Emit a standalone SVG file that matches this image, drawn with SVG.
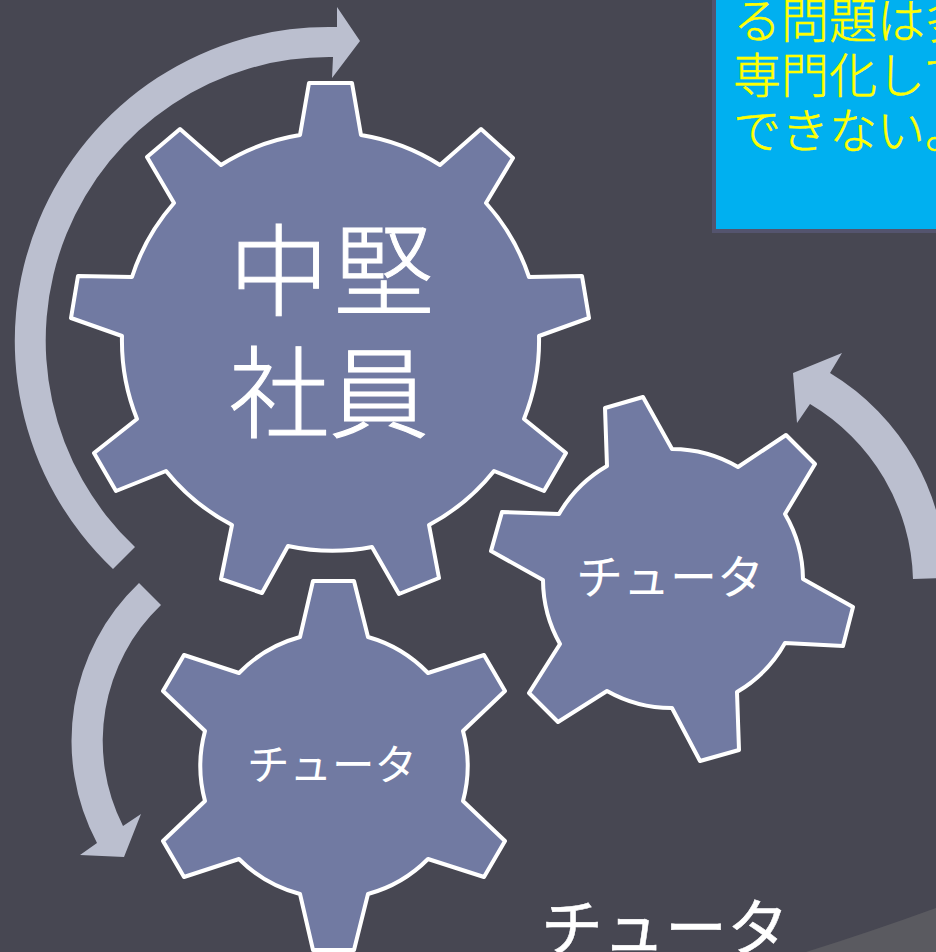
<svg xmlns="http://www.w3.org/2000/svg" width="936" height="952" viewBox="0 0 936 952">
<style>
.bg{fill:#474752}
.gear{fill:#717aa2;stroke:#fff;stroke-width:4;stroke-linejoin:round}
.arrow{fill:#bbbfcf}
text{font-family:"Noto Sans CJK JP","Noto Sans",sans-serif;fill:#fff;text-anchor:middle}
.box{fill:#00b0f0;stroke:#54546e;stroke-width:4}
.note{fill:#ff0;stroke:#ff0;stroke-width:.5;font-size:48px;font-weight:300;text-anchor:start}
.big{font-size:100px;font-weight:300;stroke:#fff;stroke-width:1}
</style>
<rect class="bg" width="936" height="952"/>
<path id="corner" d="M806 952Q870 932 936 908V952Z" fill="#5a5a60"/>
<g id="connectors">
<path class="arrow" d="M113 569A314 314 0 0 1 337 27L337 7L360 41L332 78L333 57A283.500 283.500 0 0 0 135 547Z"/>
<path class="arrow" d="M139 583A218 218 0 0 0 97 843L80 855L124 857L141 814L123 826A188 188 0 0 1 161 605Z"/>
<path class="arrow" d="M913 579A210 210 0 0 0 810 404L797 423L793 373L842 353L830 373A240 240 0 0 1 946 578Z"/>
</g>
<g id="note-box">
<rect class="box" x="714" y="-10" width="240" height="241"/>
<text class="note"><tspan x="733" y="38">る問題は多</tspan><tspan x="733" y="93">専門化して</tspan><tspan x="733" y="148">できない。</tspan></text>
</g>
<g id="gear-senior">
<path class="gear" d="M309 83H352L361 135A209 209 0 0 1 440 165L481 129L513 158L486 203A209 209 0 0 1 529 277L582 276L589 318L539 336A209 209 0 0 1 524 419L566 453L544 491L494 471A209 209 0 0 1 429 525L439 578L399 594L372 547A209 209 0 0 1 288 546L262 593L221 579L232 525A209 209 0 0 1 166 471L116 491L94 453L137 419A209 209 0 0 1 122 336L71 318L78 276L132 277A209 209 0 0 1 174 203L147 157L180 129L221 165A209 209 0 0 1 300 135Z"/>
<text class="big"><tspan x="279" y="308">中</tspan><tspan x="384" y="308">堅</tspan><tspan x="329" y="430">社員</tspan></text>
</g>
<g id="gear-bottom">
<path class="gear" d="M313 581H354L368 637A134 134 0 0 1 428 673L484 655L505 691L463 731A134 134 0 0 1 463 801L505 841L484 877L428 859A134 134 0 0 1 368 894L354 950H313L300 894A134 134 0 0 1 239 859L184 877L163 841L205 801A134 134 0 0 1 205 731L163 691L184 655L239 673A134 134 0 0 1 300 637Z"/>
<text x="332" y="780" font-size="42.500">チュータ</text>
</g>
<g id="gear-right">
<path class="gear" d="M605 408L643 397L672 449A131 131 0 0 1 738 467L786 435L815 464L785 514A131 131 0 0 1 803 579L853 607L843 646L785 643A131 131 0 0 1 737 692L739 750L700 761L672 708A131 131 0 0 1 607 691L558 722L529 693L560 644A131 131 0 0 1 543 580L491 551L502 512L559 514A131 131 0 0 1 607 466Z"/>
<text x="670" y="594" font-size="47">チュータ</text>
</g>
<text id="label-bottom" x="665" y="951" font-size="62" stroke="#fff" stroke-width=".5">チュータ</text>
</svg>
